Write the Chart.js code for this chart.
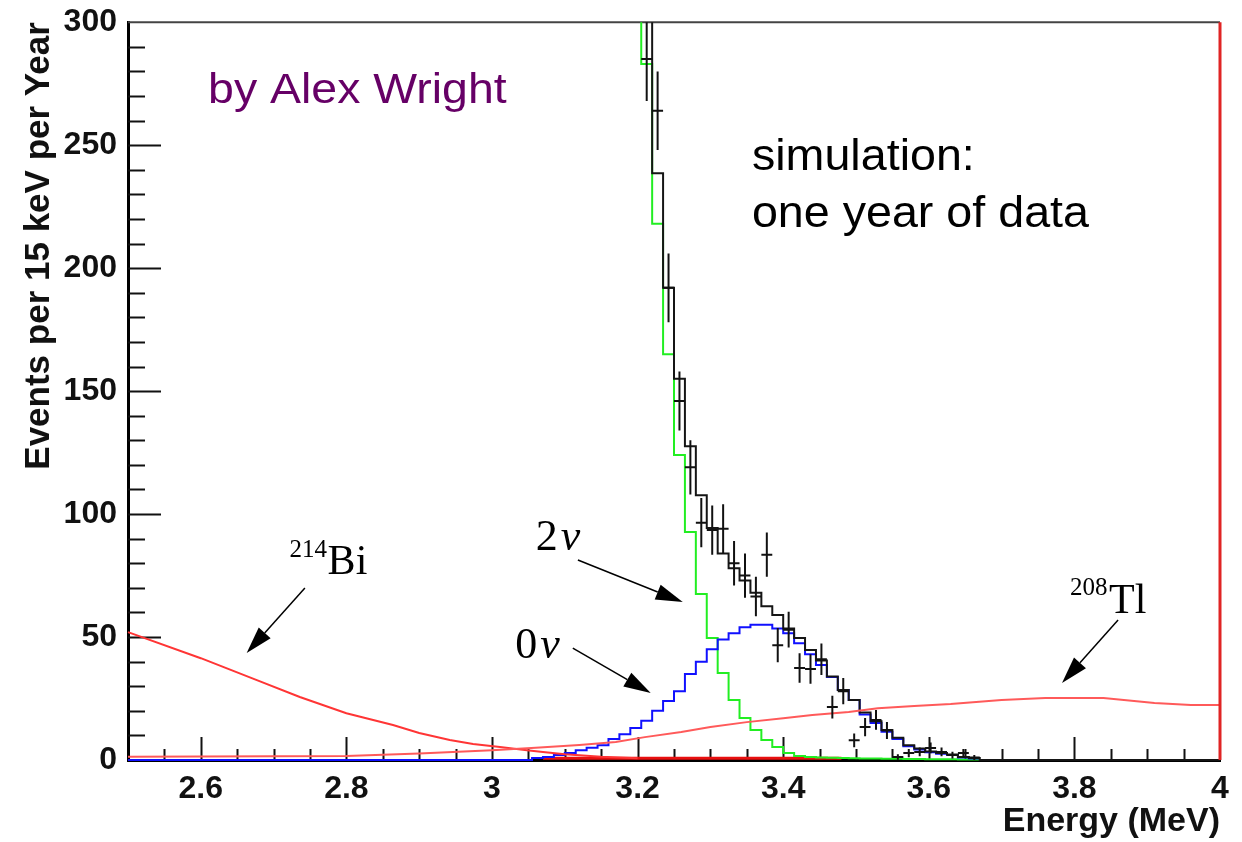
<!DOCTYPE html>
<html>
<head>
<meta charset="utf-8">
<title>Simulated spectrum, one year of data</title>
<script src="https://cdn.jsdelivr.net/npm/chart.js@4.4.1/dist/chart.umd.min.js"></script>
<style>
  html, body { margin: 0; padding: 0; background: #fff; }
  #wrap { width: 1242px; height: 842px; }
</style>
</head>
<body>
<div id="wrap"><canvas id="spectrum" width="1242" height="842"></canvas></div>
<script>
// Binning: 15 keV bins from 2.5 MeV
const binStart = 2.5;
const binWidth = 0.015;

// Axis ticks
const xMajorTicks = [2.6, 2.8, 3, 3.2, 3.4, 3.6, 3.8, 4];
const yMajorTicks = [0, 50, 100, 150, 200, 250, 300];

// Total (black histogram), starts at bin 45
const totalFirstBin = 45;
const totalCounts = [480, 400, 330, 238.6, 192, 155, 127.6, 107.7, 94.3, 84, 78, 73, 68, 62.5, 59, 53.5,
    49.6, 44.7, 40.5, 34, 28.5, 24.4, 19.3, 15.8, 12.2, 9, 6, 4.7, 3.5, 2.8, 2.2, 1.2, 0.8,
    0, 0, 0, 0, 0, 0, 0, 0, 0, 0, 0, 0, 0, 0, 0, 0, 0, 0, 0, 0, 0, 0];

// 2nu (green histogram), starts at bin 45
const twoNuFirstBin = 45;
const twoNuCounts = [460, 360, 283, 218, 165, 124, 92.7, 67.5, 49.6, 35.4, 24.4, 17.1, 12.2, 8.1, 5.3, 2.8,
    1.6, 1.2, 1.0, 0.9, 0.8, 0.7, 0.6, 0.6, 0.5, 0.5, 0.4, 0.4, 0.3, 0.3, 0.3, 0.2, 0.2];

// 0nu (blue histogram), starts at bin 0
const zeroNuFirstBin = 0;
const zeroNuCounts = [0, 0, 0, 0, 0, 0, 0, 0, 0, 0, 0, 0, 0, 0, 0, 0, 0, 0, 0, 0, 0, 0, 0, 0, 0, 0, 0, 0, 0, 0,
    0, 0, 0, 0, 0, 0, 0,
    0.8, 1.2, 2, 2.8, 4, 5, 6, 8.5, 10.5, 13, 16, 20, 24, 28, 35, 40, 45, 49, 51.5, 54, 55, 55, 53.5, 51.5,
    47.5, 43, 38.6, 33.7, 28.5, 24.4, 18.5, 15, 11.5, 8.5, 5.6, 4.3, 3.2, 2.5, 2, 1, 0.6];

// Simulated data points with error bars, starts at bin 47
const dataFirstBin = 47;
const dataCounts = [285, 264, 192, 146, 119, 96.5, 93.5, 94, 80, 75, 66.5, 83.5, 46.7, 53, 37.4, 37, 41,
    21.5, 28, 8, 13.4, 16.3, 12, 1.2, 2.8, 3.3, 4.9, 3.3, 2, 2.8, 1];
const dataErrors = [17, 16, 14, 12, 11, 10, 10, 10, 9, 9, 8, 9, 7, 7.3, 6, 6, 6.4,
    4.6, 5.3, 2.8, 3.7, 4, 3.5, 1.1, 1.7, 1.8, 2.2, 1.8, 1.4, 1.7, 1];

// 214Bi background (energy, counts)
const biEnergy = [2.5, 2.6, 2.677, 2.736, 2.8, 2.864, 2.9, 2.942, 2.974, 3.011, 3.048, 3.07, 3.1, 3.15, 3.2];
const biCounts = [52, 41.4, 32.5, 25.6, 19, 14.2, 11, 8.1, 6.5, 5.3, 4, 3.3, 2.3, 1.3, 0.7];

// 208Tl background (energy, counts)
const tlEnergy = [2.5, 2.8, 2.9, 3.0, 3.06, 3.12, 3.17, 3.21, 3.26, 3.3, 3.35, 3.4, 3.44, 3.49, 3.53,
    3.58, 3.63, 3.7, 3.76, 3.84, 3.91, 3.96, 4.0];
const tlCounts = [1.3, 1.6, 2.6, 4, 5, 6.1, 7.3, 9.3, 11.4, 13.4, 15.4, 17, 18.3, 19.5, 21,
    22, 22.8, 24.4, 25.2, 25.2, 23.2, 22.4, 22.4];

// small red component near zero
const lowEnergy = [3.07, 3.48];
const lowCounts = [0.7, 0.7];

function histPoints(firstBin, counts) {
    const pts = counts.map((c, k) => ({ x: binStart + (firstBin + k) * binWidth, y: c }));
    pts.push({ x: binStart + (firstBin + counts.length) * binWidth, y: counts[counts.length - 1] });
    return pts;
}

function linePoints(xs, ys) {
    return xs.map((x, i) => ({ x: x, y: ys[i] }));
}

function histDataset(points, color) {
    // 'before' = horizontal run first, then the vertical jump at the next bin edge
    return {
        data: points, borderColor: color, borderWidth: 2, pointRadius: 0,
        stepped: 'before', fill: false, clip: { left: 2, right: 2, top: 0, bottom: 3 }
    };
}

function curveDataset(points, color, width) {
    return {
        data: points, borderColor: color, borderWidth: width, pointRadius: 0,
        tension: 0, fill: false, clip: { left: 2, right: 2, top: 0, bottom: 3 }
    };
}

// text drawn a little wider than the font, like the stretched original
function wideText(ctx, text, x, y, sx) {
    ctx.save();
    ctx.translate(x, y);
    ctx.scale(sx, 1);
    ctx.fillText(text, 0, 0);
    ctx.restore();
}

// Frame, ROOT-style tick marks, data crosses and annotations
const decorPlugin = {
    id: 'decor',
    beforeDatasetsDraw(chart) {
        const { ctx, chartArea: a, scales: { x, y } } = chart;
        ctx.save();
        ctx.strokeStyle = '#111';
        ctx.lineWidth = 2;
        // y ticks, major every 50, minor every 10
        for (let v = 10; v < 300; v += 10) {
            const py = Math.round(y.getPixelForValue(v)) + 0.5;
            const len = v % 50 === 0 ? 33 : 17;
            ctx.beginPath(); ctx.moveTo(a.left, py); ctx.lineTo(a.left + len, py); ctx.stroke();
        }
        // x ticks, major every 0.2, minor every 0.05
        for (let k = 1; k < 30; k++) {
            const e = 2.5 + k * 0.05;
            const px = Math.round(x.getPixelForValue(e)) + 0.5;
            const major = k % 4 === 2;
            ctx.beginPath(); ctx.moveTo(px, a.bottom); ctx.lineTo(px, a.bottom - (major ? 23 : 11)); ctx.stroke();
        }
        // top frame
        ctx.strokeStyle = '#444';
        ctx.beginPath(); ctx.moveTo(a.left, a.top); ctx.lineTo(a.right, a.top); ctx.stroke();
        ctx.restore();
    },
    afterDatasetsDraw(chart) {
        const { ctx, chartArea: a, scales: { x, y } } = chart;
        ctx.save();
        ctx.beginPath();
        ctx.rect(a.left, a.top, a.right - a.left, a.bottom - a.top);
        ctx.clip();
        ctx.strokeStyle = '#111';
        ctx.lineWidth = 2;
        dataCounts.forEach((c, k) => {
            const lo = binStart + (dataFirstBin + k) * binWidth;
            const x0 = x.getPixelForValue(lo);
            const x1 = x.getPixelForValue(lo + binWidth);
            const xc = (x0 + x1) / 2;
            const yc = y.getPixelForValue(c);
            ctx.beginPath();
            ctx.moveTo(x0, yc); ctx.lineTo(x1, yc);
            ctx.moveTo(xc, y.getPixelForValue(c - dataErrors[k]));
            ctx.lineTo(xc, y.getPixelForValue(c + dataErrors[k]));
            ctx.stroke();
        });
        ctx.restore();

        // right frame (red)
        ctx.save();
        ctx.strokeStyle = '#e02424';
        ctx.lineWidth = 3;
        ctx.beginPath(); ctx.moveTo(a.right, a.top); ctx.lineTo(a.right, a.bottom); ctx.stroke();
        ctx.restore();
    },
    afterDraw(chart) {
        const { ctx, scales: { x, y } } = chart;
        const px = e => x.getPixelForValue(e);
        const py = v => y.getPixelForValue(v);
        ctx.save();
        ctx.textBaseline = 'alphabetic';
        ctx.textAlign = 'left';

        ctx.fillStyle = '#660066';
        ctx.font = '43px "Liberation Sans", Arial, sans-serif';
        wideText(ctx, 'by Alex Wright', px(2.61), py(267), 1.08);

        ctx.fillStyle = '#000';
        ctx.font = '44px "Liberation Sans", Arial, sans-serif';
        wideText(ctx, 'simulation:', px(3.357), py(239.8), 1.06);
        wideText(ctx, 'one year of data', px(3.357), py(216.7), 1.06);

        const serif = '"Liberation Serif", "Times New Roman", serif';
        // 2nu and 0nu
        ctx.font = '44px ' + serif;
        ctx.fillText('2', px(3.06), py(85.4));
        ctx.fillText('0', px(3.032), py(41.5));
        ctx.font = 'italic 44px ' + serif;
        ctx.fillText('ν', px(3.06) + 25, py(85.4));
        ctx.fillText('ν', px(3.032) + 25, py(41.5));

        // isotopes
        ctx.font = '25px ' + serif;
        ctx.fillText('214', px(2.722), py(82.5));
        ctx.fillText('208', px(3.794), py(67));
        ctx.font = '42px ' + serif;
        ctx.fillText('Bi', px(2.722) + 38, py(75.6));
        ctx.fillText('Tl', px(3.794) + 39, py(59.8));

        // arrows
        const arrows = [
            [2.743, 69.9, 2.663, 43.5],
            [3.118, 81.3, 3.262, 64.2],
            [3.111, 45.5, 3.218, 27.2],
            [3.86, 56.9, 3.783, 31.3]
        ];
        ctx.strokeStyle = '#000';
        ctx.lineWidth = 1.5;
        arrows.forEach(([e1, v1, e2, v2]) => {
            const x1 = px(e1), y1 = py(v1), x2 = px(e2), y2 = py(v2);
            const ang = Math.atan2(y2 - y1, x2 - x1);
            const headLen = 27, half = 8;
            const bx = x2 - headLen * Math.cos(ang), by = y2 - headLen * Math.sin(ang);
            ctx.beginPath(); ctx.moveTo(x1, y1); ctx.lineTo(bx, by); ctx.stroke();
            ctx.beginPath();
            ctx.moveTo(x2, y2);
            ctx.lineTo(bx + half * Math.sin(ang), by - half * Math.cos(ang));
            ctx.lineTo(bx - half * Math.sin(ang), by + half * Math.cos(ang));
            ctx.closePath();
            ctx.fill();
        });
        ctx.restore();
    }
};

const boldFont = size => ({ family: '"Liberation Sans", Arial, sans-serif', weight: 'bold', size: size });

const ctx = document.getElementById('spectrum').getContext('2d');
const spectrumChart = new Chart(ctx, {
    type: 'line',
    data: {
        datasets: [
            curveDataset(linePoints(tlEnergy, tlCounts), '#ff5a5a', 2),
            curveDataset(linePoints(biEnergy, biCounts), '#ff3535', 2),
            histDataset(histPoints(totalFirstBin, totalCounts), '#151515'),
            histDataset(histPoints(zeroNuFirstBin, zeroNuCounts), '#1010ff'),
            histDataset(histPoints(twoNuFirstBin, twoNuCounts), '#22ee22'),
            curveDataset(linePoints(lowEnergy, lowCounts), '#e81010', 3)
        ]
    },
    options: {
        responsive: false,
        animation: false,
        events: [],
        layout: { padding: { top: 22, right: 22, left: 0, bottom: 0 } },
        plugins: { legend: { display: false }, tooltip: { enabled: false } },
        scales: {
            x: {
                type: 'linear', min: 2.5, max: 4,
                grid: { display: false },
                border: { display: true, color: '#000', width: 3 },
                afterBuildTicks: scale => { scale.ticks = xMajorTicks.map(v => ({ value: v })); },
                afterFit: scale => { scale.height = 82; },
                ticks: {
                    autoSkip: false, maxRotation: 0, padding: 2, color: '#111',
                    font: boldFont(32),
                    callback: v => String(v)
                },
                title: {
                    display: true, text: 'Energy (MeV)', align: 'end', color: '#111',
                    font: boldFont(34), padding: { top: 0, bottom: 0 }
                }
            },
            y: {
                type: 'linear', min: 0, max: 300,
                grid: { display: false },
                border: { display: true, color: '#000', width: 3 },
                afterBuildTicks: scale => { scale.ticks = yMajorTicks.map(v => ({ value: v })); },
                afterFit: scale => { scale.width = 128; },
                ticks: {
                    padding: 3, color: '#111',
                    font: boldFont(32),
                    callback: v => String(v)
                },
                title: {
                    display: true, text: 'Events per 15 keV per Year', align: 'end', color: '#111',
                    font: boldFont(35), padding: { top: 18, bottom: 0 }
                }
            }
        }
    },
    plugins: [decorPlugin]
});
</script>
</body>
</html>
